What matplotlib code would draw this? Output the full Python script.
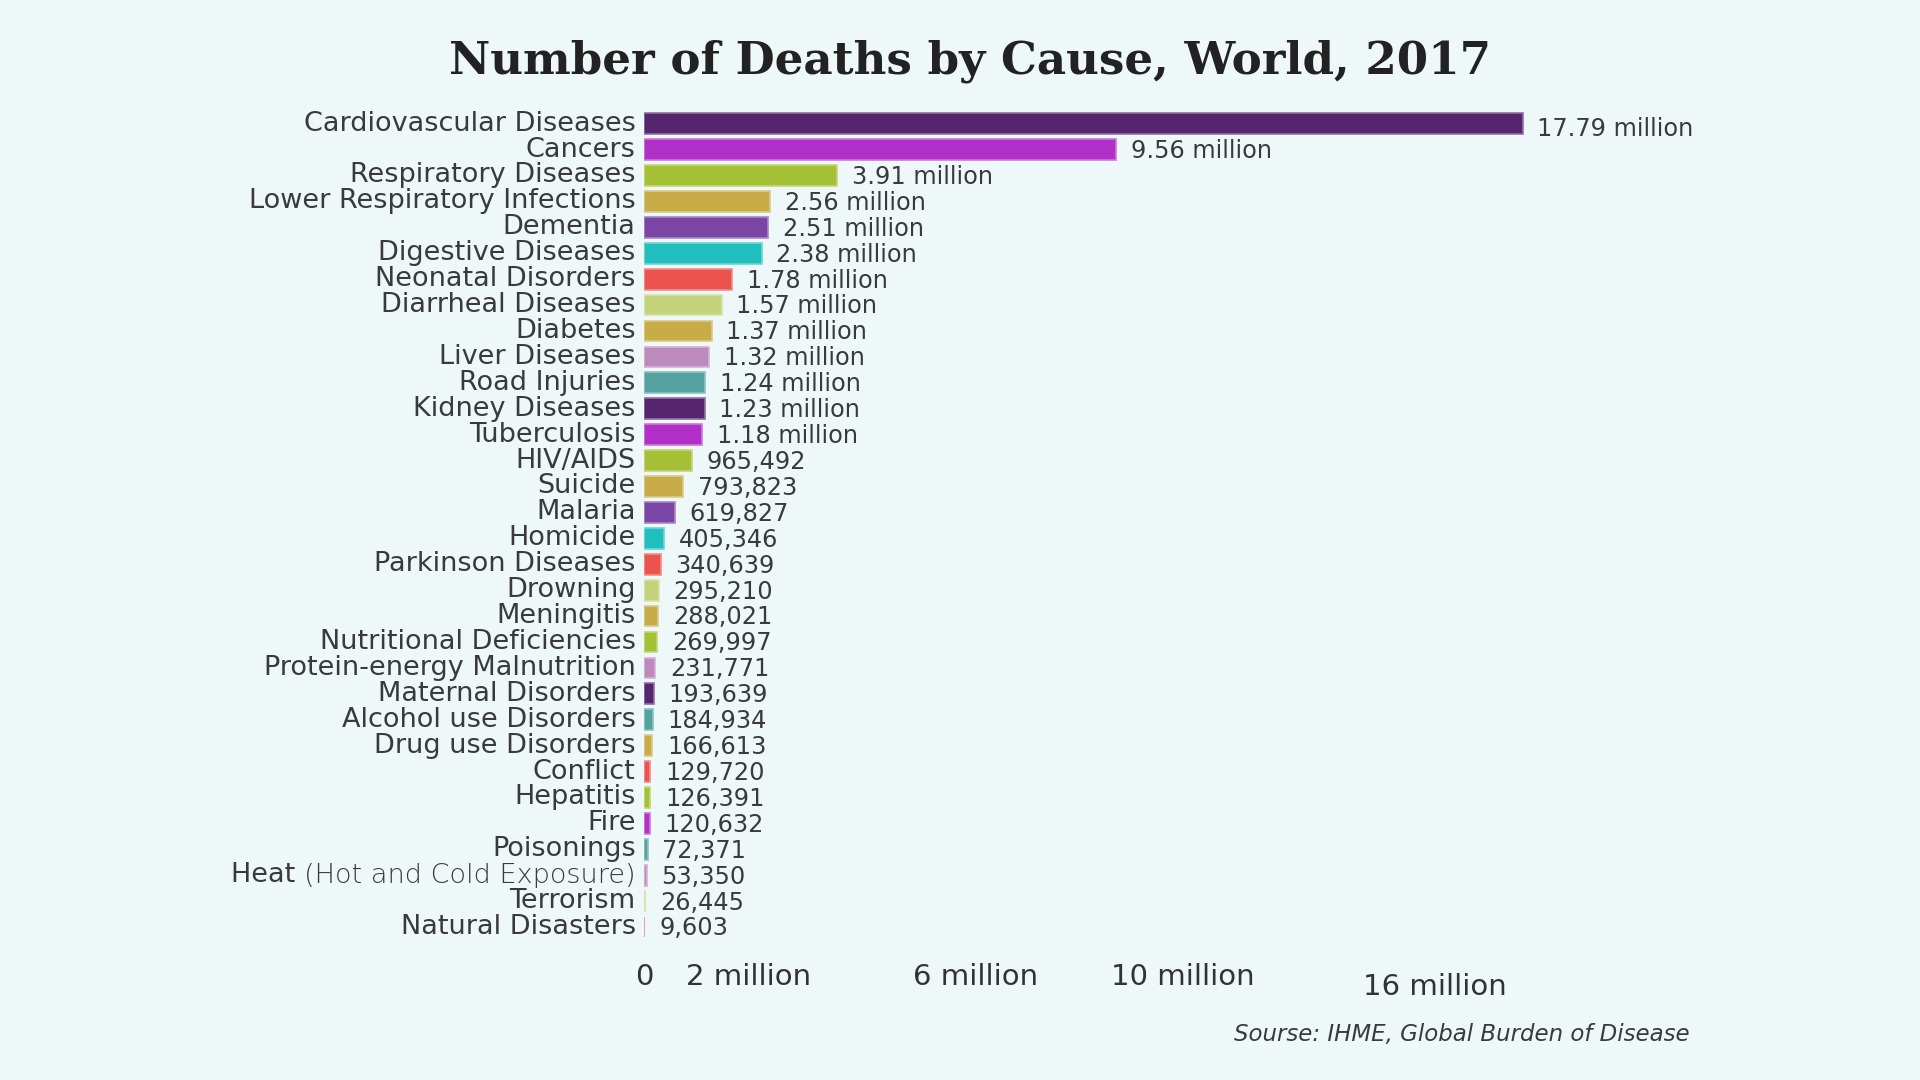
import matplotlib
matplotlib.use("Agg")
import matplotlib.pyplot as plt
import matplotlib.transforms as mtransforms
from matplotlib.colors import to_rgb

causes = [
    "Cardiovascular Diseases", "Cancers", "Respiratory Diseases",
    "Lower Respiratory Infections", "Dementia", "Digestive Diseases",
    "Neonatal Disorders", "Diarrheal Diseases", "Diabetes", "Liver Diseases",
    "Road Injuries", "Kidney Diseases", "Tuberculosis", "HIV/AIDS", "Suicide",
    "Malaria", "Homicide", "Parkinson Diseases", "Drowning", "Meningitis",
    "Nutritional Deficiencies", "Protein-energy Malnutrition",
    "Maternal Disorders", "Alcohol use Disorders", "Drug use Disorders",
    "Conflict", "Hepatitis", "Fire", "Poisonings",
    "Heat (Hot and Cold Exposure)", "Terrorism", "Natural Disasters",
]
deaths = [
    17790000, 9560000, 3910000, 2560000, 2510000, 2380000, 1780000, 1570000,
    1370000, 1320000, 1240000, 1230000, 1180000, 965492, 793823, 619827,
    405346, 340639, 295210, 288021, 269997, 231771, 193639, 184934, 166613,
    129720, 126391, 120632, 72371, 53350, 26445, 9603,
]
value_labels = [
    "17.79 million", "9.56 million", "3.91 million", "2.56 million",
    "2.51 million", "2.38 million", "1.78 million", "1.57 million",
    "1.37 million", "1.32 million", "1.24 million", "1.23 million",
    "1.18 million", "965,492", "793,823", "619,827", "405,346", "340,639",
    "295,210", "288,021", "269,997", "231,771", "193,639", "184,934",
    "166,613", "129,720", "126,391", "120,632", "72,371", "53,350",
    "26,445", "9,603",
]
bar_colors = [
    "#55256f", "#b030c8", "#a6c035", "#c8ac48", "#7b45a5", "#22bfbf",
    "#ec524e", "#c3d37c", "#c8ac48", "#bc8abc", "#55a0a0", "#55256f",
    "#b030c8", "#a6c035", "#c8ac48", "#7b45a5", "#22bfbf", "#ec524e",
    "#c3d37c", "#c8ac48", "#a6c035", "#bc8abc", "#55256f", "#55a0a0",
    "#c8ac48", "#ec524e", "#a6c035", "#b030c8", "#55a0a0", "#bc8abc",
    "#c3d37c", "#ec524e",
]
tick_values = [0, 2000000, 6000000, 10000000, 16000000]
tick_labels = ["0", "2 million", "6 million", "10 million", "16 million"]

title = "Number of Deaths by Cause, World, 2017"
source = "Sourse: IHME, Global Burden of Disease"

BG = "#eff8f8"
TXT = "#3a3a3a"
FAM = "DejaVu Sans"

fig = plt.figure(figsize=(19.2, 10.8), dpi=100, facecolor=BG)
ax = fig.add_axes([644 / 1920, 1 - 940 / 1080, 0.5146, (940 - 110.7) / 1080])
ax.set_facecolor(BG)

ypos = list(range(len(causes)))


def lighten(c, f=0.35):
    r, g, b = to_rgb(c)
    return (r + (1 - r) * f, g + (1 - g) * f, b + (1 - b) * f)


ax.barh(ypos, deaths, height=0.8, color=bar_colors,
        edgecolor=[lighten(c) for c in bar_colors], linewidth=1.2)

ax.set_xlim(0, 20000000)
ax.set_ylim(len(causes) - 0.5, -0.5)

for s in ax.spines.values():
    s.set_visible(False)

# category labels
ax.set_yticks([])
LBL = 19.5
for i, name in enumerate(causes):
    if name.startswith("Heat "):
        t = ax.annotate("(Hot and Cold Exposure)", xy=(0, i), xytext=(-6, 0),
                        textcoords="offset points", ha="right", va="center",
                        fontsize=LBL, color=TXT, family=FAM,
                        fontweight="light")
        ax.annotate("Heat ", xy=(0, 0.5), xycoords=t, ha="right",
                    va="center", fontsize=LBL, color=TXT, family=FAM)
    else:
        ax.annotate(name, xy=(0, i), xytext=(-6, 0),
                    textcoords="offset points", ha="right", va="center",
                    fontsize=LBL, color=TXT, family=FAM)

# value labels
for i, (v, lab) in enumerate(zip(deaths, value_labels)):
    dy = -4 if i == 0 else -1
    ax.annotate(lab, xy=(v, i), xytext=(10.5, dy), textcoords="offset points",
                ha="left", va="center", fontsize=17.3, color=TXT, family=FAM)

# x ticks
ax.set_xticks(tick_values)
ax.set_xticklabels(tick_labels, fontsize=21, color="#333333", family=FAM)
ax.tick_params(axis="x", length=0, pad=16.5)
offsets = [(0, 0), (3.8, 0), (25.6, 0), (32, 0), (0, -7)]
for lbl, (dx, dy) in zip(ax.get_xticklabels(), offsets):
    lbl.set_transform(lbl.get_transform() +
                      mtransforms.ScaledTranslation(dx / 72, dy / 72,
                                                    fig.dpi_scale_trans))

fig.text(970 / 1920, 1 - 61 / 1080, title, ha="center", va="center",
         fontsize=32.5, fontweight="bold", family="DejaVu Serif",
         color="#222222")
fig.text(1690 / 1920, 1 - 1034 / 1080, source, ha="right", va="center",
         fontsize=16.5, style="italic", family=FAM, color=TXT)

fig.savefig("out.png", dpi=100, facecolor=BG)
